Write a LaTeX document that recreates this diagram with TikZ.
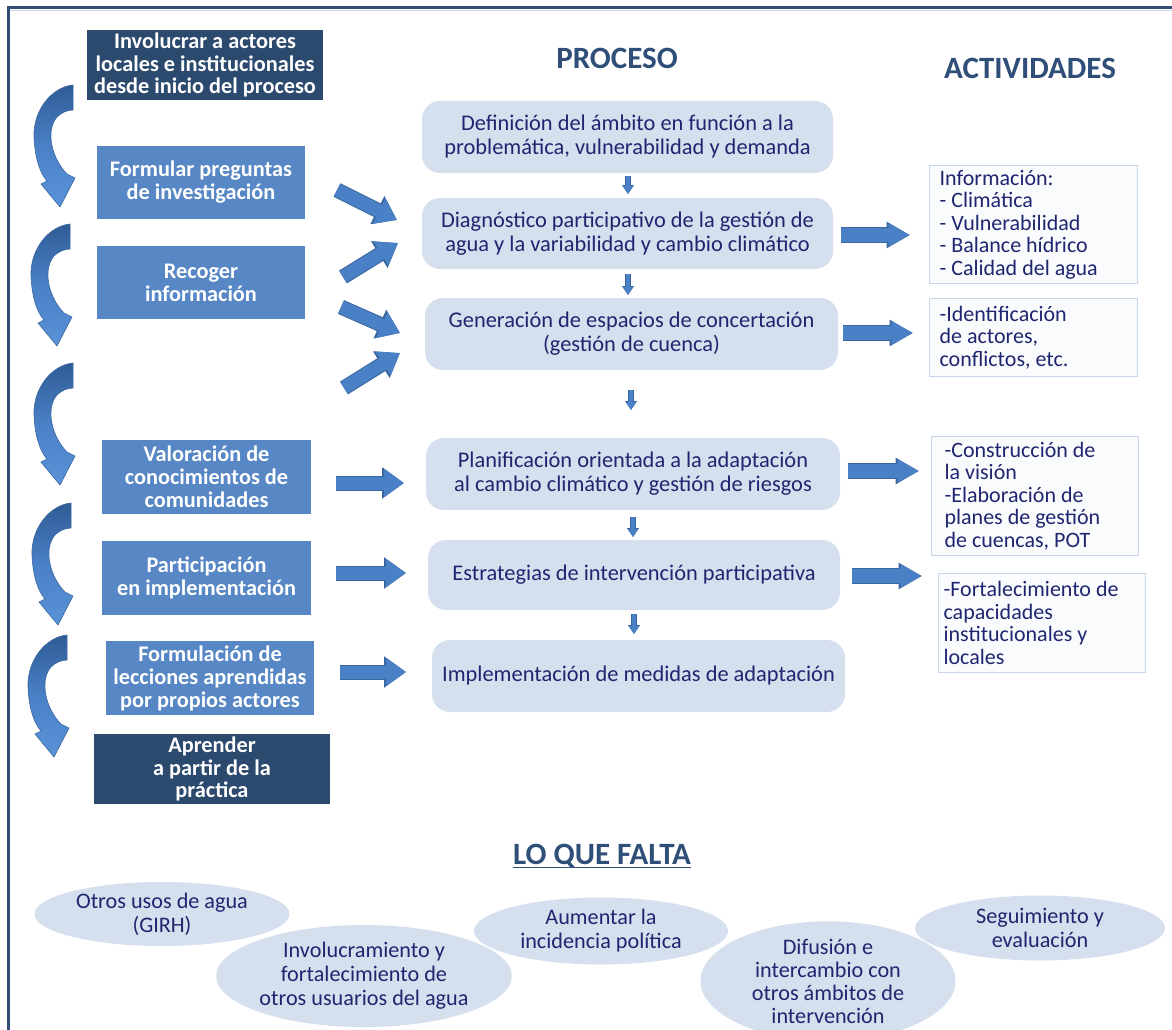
\documentclass[tikz,border=0pt]{standalone}
\usepackage{fontspec}
\setmainfont{Carlito}
\usetikzlibrary{arrows.meta,shapes.geometric,calc}

\definecolor{navy}{HTML}{2C4A6E}
\definecolor{midblue}{HTML}{5787C4}
\definecolor{arrowblue}{HTML}{4A80C6}
\definecolor{arrowedge}{HTML}{3A669F}
\definecolor{procfill}{HTML}{D5DFEE}
\definecolor{inktext}{HTML}{1F2670}
\definecolor{headblue}{HTML}{2F4E78}
\definecolor{actedge}{HTML}{C8D6EC}
\definecolor{actfill}{HTML}{FAFBFD}
\definecolor{curvetop}{HTML}{2F5C96}
\definecolor{curvebot}{HTML}{5A93D8}

\tikzset{
  x=1pt, y=-1pt,
  darkbox/.style={fill=navy, text=white, font=\fontsize{22.3}{22.5}\selectfont\bfseries,
    align=center, inner sep=0pt, minimum width=236pt, minimum height=70pt},
  stagebox/.style={fill=midblue, text=white, font=\fontsize{22.3}{23}\selectfont\bfseries,
    align=center, inner sep=0pt, minimum width=208pt, minimum height=73pt},
  procbox/.style={fill=procfill, rounded corners=18pt, text=inktext,
    font=\fontsize{22.4}{24}\selectfont, align=center, inner sep=0pt},
  actbox/.style={draw=actedge, line width=1.2pt, fill=actfill, text=inktext,
    font=\fontsize{22}{22.6}\selectfont, align=flush left, anchor=north west, inner ysep=0pt},
  gapbox/.style={ellipse, fill=procfill, text=inktext, font=\fontsize{22.2}{24}\selectfont,
    align=center, inner sep=0pt},
  heading/.style={text=headblue, font=\fontsize{31}{33}\selectfont\bfseries, inner sep=0pt},
  % block arrows drawn as a thick shaft with a wide triangular tip
  blkL/.style={preaction={draw=arrowedge, line width=15pt, -{Triangle[width=30pt,length=22pt]}},
    draw=arrowblue, line width=13pt, -{Triangle[width=27pt,length=20pt]}},
  blkR/.style={preaction={draw=arrowedge, line width=15.5pt, -{Triangle[width=25pt,length=23.5pt]}},
    draw=arrowblue, line width=13.5pt, -{Triangle[width=22pt,length=21.5pt]}},
  blkS/.style={preaction={draw=arrowedge, line width=5.5pt, -{Triangle[width=11.5pt,length=9pt]}},
    draw=arrowblue, line width=4pt, -{Triangle[width=10pt,length=8pt]}},
  curl/.pic={
    \shadedraw[top color=curvetop, bottom color=curvebot, middle color=arrowblue,
      draw=arrowedge, line width=0.6pt]
      (73,0) .. controls (52,2) and (33,25) .. (34,52)
      .. controls (35,74) and (40,88) .. (47,96)
      -- (41,99) -- (60,122) -- (75,93) -- (67,89)
      .. controls (52,74) and (45,46) .. (57,32)
      .. controls (61,28) and (67,25) .. (73,25) -- cycle;
  }
}

\begin{document}
\begin{tikzpicture}
\useasboundingbox (0,0) rectangle (1172,1030);

% frame
\draw[headblue, line width=3pt] (8,1030) -- (8,8) -- (1172,8);
\draw[actedge, line width=1pt] (10,10.5) -- (1172,10.5);

% headings
\node[heading] (hproc) at (617,58) {PROCESO};
\node[heading] (hact) at (1030,68) {ACTIVIDADES};
\node[heading, anchor=base] (hfalta) at (602,864) {LO QUE FALTA};
\draw[headblue, line width=1.3pt] ([yshift=-3.5pt]hfalta.base west) -- ([yshift=-3.5pt]hfalta.base east);

% left column: participation stages
\node[darkbox] (inv) at (205,65) {Involucrar a actores\\locales e institucionales\\desde inicio del proceso};
\node[stagebox] (form) at (201,182.5) {Formular preguntas\\de investigación};
\node[stagebox] (rec) at (201,282.5) {Recoger\\información};
\node[stagebox, minimum width=209pt, minimum height=74pt] (val) at (206.5,477) {Valoración de\\conocimientos de\\comunidades};
\node[stagebox, minimum width=209pt, minimum height=74pt] (part) at (206.5,578) {Participación\\en implementación};
\node[stagebox, minimum height=74pt] (lec) at (210,678) {Formulación de\\lecciones aprendidas\\por propios actores};
\node[darkbox] (apr) at (212,769) {Aprender\\a partir de la\\práctica};

% curved arrows down the left margin
\pic at (0,85) {curl};
\pic at (-3,224) {curl};
\pic at (0,363) {curl};
\pic at (-2,503) {curl};
\pic at (-6,635) {curl};

% process column
\node[procbox, minimum width=411pt, minimum height=72pt] (p1) at (627.5,137) {Definición del ámbito en función a la\\problemática, vulnerabilidad y demanda};
\node[procbox, minimum width=411pt, minimum height=71pt] (p2) at (627.5,233.5) {Diagnóstico participativo de la gestión de\\agua y la variabilidad y cambio climático};
\node[procbox, minimum width=413pt, minimum height=72pt] (p3) at (631.5,334) {Generación de espacios de concertación\\(gestión de cuenca)};
\node[procbox, minimum width=414pt, minimum height=72pt] (p4) at (633,474) {Planificación orientada a la adaptación\\al cambio climático y gestión de riesgos};
\node[procbox, minimum width=412pt, minimum height=70pt] (p5) at (634,575) {Estrategias de intervención participativa};
\node[procbox, minimum width=413pt, minimum height=72pt] (p6) at (638.5,676) {Implementación de medidas de adaptación};

% activities column
\node[actbox, inner xsep=10pt, text width=188pt, minimum height=118pt] (a1) at (929,165)
  {Información:\\- Climática\\- Vulnerabilidad\\- Balance hídrico\\- Calidad del agua};
\node[actbox, inner xsep=10pt, text width=188pt, minimum height=78pt] (a2) at (929,298)
  {-Identificación\\de actores,\\conflictos, etc.};
\node[actbox, inner xsep=13pt, text width=181pt, minimum height=119pt] (a3) at (931,436)
  {-Construcción de\\la visión\\-Elaboración de\\planes de gestión\\de cuencas, POT};
\node[actbox, inner xsep=5pt, text width=197pt, minimum height=99pt] (a4) at (938,573)
  {-Fortalecimiento de\\capacidades\\institucionales y\\locales};

% arrow end points
\coordinate (s1) at (337,190); \coordinate (e1) at (397,220);
\coordinate (s2) at (343,277); \coordinate (e2) at (398,243);
\coordinate (s3) at (341,307); \coordinate (e3) at (400,333);
\coordinate (s4) at (344,388); \coordinate (e4) at (400,353);
\coordinate (s5) at (336,483); \coordinate (e5) at (404,483);
\coordinate (s6) at (336,573); \coordinate (e6) at (406,573);
\coordinate (s7) at (340,672); \coordinate (e7) at (406,672);

\coordinate (r1s) at (841,235); \coordinate (r1e) at (910,235);
\coordinate (r2s) at (843,333); \coordinate (r2e) at (913,333);
\coordinate (r3s) at (848,471); \coordinate (r3e) at (919,471);
\coordinate (r4s) at (852,576); \coordinate (r4e) at (922,576);

\coordinate (d1s) at (628,176); \coordinate (d1e) at (628,194);
\coordinate (d2s) at (628,274); \coordinate (d2e) at (628,295);
\coordinate (d3s) at (631,390); \coordinate (d3e) at (631,410);
\coordinate (d4s) at (633,517); \coordinate (d4e) at (633,537);
\coordinate (d5s) at (634,614); \coordinate (d5e) at (634,634);

% stages feeding the process
\draw[blkL] (s1) -- (e1);
\draw[blkL] (s2) -- (e2);
\draw[blkL] (s3) -- (e3);
\draw[blkL] (s4) -- (e4);
\draw[blkL] (s5) -- (e5);
\draw[blkL] (s6) -- (e6);
\draw[blkL] (s7) -- (e7);

% process to activities
\draw[blkR] (r1s) -- (r1e);
\draw[blkR] (r2s) -- (r2e);
\draw[blkR] (r3s) -- (r3e);
\draw[blkR] (r4s) -- (r4e);

% process sequence
\draw[blkS] (d1s) -- (d1e);
\draw[blkS] (d2s) -- (d2e);
\draw[blkS] (d3s) -- (d3e);
\draw[blkS] (d4s) -- (d4e);
\draw[blkS] (d5s) -- (d5e);

% what is missing
\node[gapbox, minimum width=255pt, minimum height=64pt] (g1) at (162,914) {Otros usos de agua\\(GIRH)};
\node[gapbox, minimum width=255pt, minimum height=102pt] (g2) at (364,976) {Involucramiento y\\fortalecimiento de\\otros usuarios del agua};
\node[gapbox, minimum width=254pt, minimum height=67pt] (g3) at (601,931) {Aumentar la\\incidencia política};
\node[gapbox, minimum width=255pt, minimum height=95pt, font=\fontsize{22.2}{23}\selectfont] (g4) at (828,981) {Difusión e\\intercambio con\\otros ámbitos de\\intervención};
\node[gapbox, minimum width=250pt, minimum height=65pt] (g5) at (1040,928) {Seguimiento y\\evaluación};
\end{tikzpicture}
\end{document}
